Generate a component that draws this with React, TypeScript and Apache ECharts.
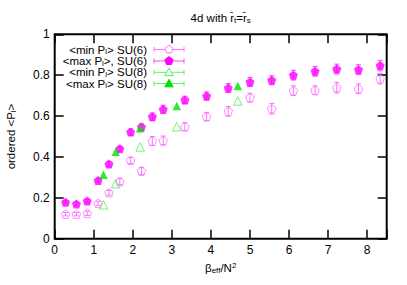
import React, { useEffect, useRef } from "react";
import * as echarts from "echarts";

// x positions (beta_eff / N^2)
const su6X = [0.278, 0.556, 0.833, 1.111, 1.389, 1.667, 1.944, 2.222, 2.5, 2.778, 3.333, 3.889, 4.444, 5.0, 5.556, 6.111, 6.667, 7.222, 7.778, 8.333];
const su6Max = [0.178, 0.17, 0.184, 0.285, 0.365, 0.44, 0.522, 0.547, 0.597, 0.633, 0.679, 0.698, 0.737, 0.767, 0.775, 0.8, 0.819, 0.83, 0.827, 0.847];
const su6MaxErr = [0.008, 0.008, 0.008, 0.01, 0.012, 0.012, 0.015, 0.015, 0.018, 0.02, 0.018, 0.02, 0.022, 0.022, 0.022, 0.024, 0.024, 0.024, 0.024, 0.026];
const su6Min = [0.12, 0.12, 0.124, 0.173, 0.225, 0.279, 0.383, 0.331, 0.478, 0.48, 0.548, 0.597, 0.623, 0.69, 0.636, 0.724, 0.726, 0.739, 0.734, 0.783];
const su6MinErr = [0.008, 0.008, 0.01, 0.01, 0.012, 0.015, 0.015, 0.018, 0.022, 0.022, 0.02, 0.02, 0.024, 0.022, 0.026, 0.024, 0.022, 0.026, 0.024, 0.026];
const su8X = [1.25, 1.5625, 2.1875, 3.125, 4.6875];
const su8Max = [0.313, 0.426, 0.54, 0.649, 0.747];
const su8Min = [0.166, 0.269, 0.449, 0.548, 0.674];

const legendRows = [
  { text: "<min P{s|l}> SU(6)", key: "min6" },
  { text: "<max P{s|l}>, SU(6)", key: "max6" },
  { text: "<min P{s|l}> SU(8)", key: "min8" },
  { text: "<max P{s|l}> SU(8)", key: "max8" },
];

const C6MIN = "#ff70ff";
const C6MAX = "#ff00ff";
const C8MIN = "#55ee55";
const C8MAX = "#00e000";
const FONT = "Liberation Sans, Arial, sans-serif";

const PENTA = "path://M0,-10 L9.51,-3.09 L5.88,8.09 L-5.88,8.09 L-9.51,-3.09 Z";

function pentagonPts(cx: number, cy: number, r: number) {
  const pts: number[][] = [];
  for (let i = 0; i < 5; i++) {
    const a = -Math.PI / 2 + (i * 2 * Math.PI) / 5;
    pts.push([cx + r * Math.cos(a), cy + r * Math.sin(a)]);
  }
  return pts;
}
function trianglePts(cx: number, cy: number, r: number) {
  return [
    [cx, cy - r],
    [cx + r, cy + r * 0.8],
    [cx - r, cy + r * 0.8],
  ];
}

function errSeries(xs: number[], ys: number[], es: number[], color: string) {
  return {
    type: "custom",
    xAxisIndex: 0,
    yAxisIndex: 0,
    data: xs.map((x, i) => [x, ys[i] - es[i], ys[i] + es[i]]),
    encode: { x: 0, y: [1, 2] },
    z: 2,
    renderItem: (params: any, api: any) => {
      const x = api.value(0);
      const a = api.coord([x, api.value(2)]);
      const b = api.coord([x, api.value(1)]);
      const w = 2.5;
      const st = { stroke: color, lineWidth: 1 };
      return {
        type: "group",
        children: [
          { type: "line", shape: { x1: a[0], y1: a[1], x2: b[0], y2: b[1] }, style: st },
          { type: "line", shape: { x1: a[0] - w, y1: a[1], x2: a[0] + w, y2: a[1] }, style: st },
          { type: "line", shape: { x1: b[0] - w, y1: b[1], x2: b[0] + w, y2: b[1] }, style: st },
        ],
      };
    },
  };
}

export default function App() {
  const ref = useRef<HTMLDivElement>(null);
  useEffect(() => {
    if (!ref.current) return;
    const chart = echarts.init(ref.current, null, { renderer: "svg" });
    const rich = {
      s: { fontSize: 8, padding: [5, 0, 0, 0], fontFamily: FONT },
      p: { fontSize: 8, padding: [0, 0, 5, 0], fontFamily: FONT },
    };

    const legendGraphics: any[] = [];
    const rowY = [49.5, 61, 72.3, 83.5];
    const colors: Record<string, string> = { min6: C6MIN, max6: C6MAX, min8: C8MIN, max8: C8MAX };
    const lineColors: Record<string, string> = { min6: C6MIN, max6: "#ff44ff", min8: "#66ee66", max8: "#66ee66" };
    legendRows.forEach((r, i) => {
      const y = rowY[i];
      legendGraphics.push({
        type: "text",
        x: 147,
        y,
        style: {
          text: r.text,
          align: "right",
          verticalAlign: "middle",
          fontSize: 11.5,
          fontFamily: FONT,
          fill: "#000",
          rich: { s: { fontSize: 8, padding: [4, 0, 0, 0], fontFamily: FONT } },
        },
      });
      const lc = lineColors[r.key];
      legendGraphics.push({ type: "line", shape: { x1: 154, y1: y, x2: 184, y2: y }, style: { stroke: lc, lineWidth: 1 } });
      legendGraphics.push({ type: "line", shape: { x1: 154, y1: y - 2.5, x2: 154, y2: y + 2.5 }, style: { stroke: lc, lineWidth: 1 } });
      legendGraphics.push({ type: "line", shape: { x1: 184, y1: y - 2.5, x2: 184, y2: y + 2.5 }, style: { stroke: lc, lineWidth: 1 } });
      const c = colors[r.key];
      if (r.key === "min6") {
        legendGraphics.push({ type: "polygon", shape: { points: pentagonPts(169, y, 4.2) }, style: { fill: "#fff", stroke: c, lineWidth: 1 } });
      } else if (r.key === "max6") {
        legendGraphics.push({ type: "polygon", shape: { points: pentagonPts(169, y, 4.4) }, style: { fill: c, stroke: c, lineWidth: 1 } });
      } else if (r.key === "min8") {
        legendGraphics.push({ type: "polygon", shape: { points: trianglePts(169, y, 4.2) }, style: { fill: "#fff", stroke: c, lineWidth: 1 } });
      } else {
        legendGraphics.push({ type: "polygon", shape: { points: trianglePts(169, y, 4.2) }, style: { fill: c, stroke: c, lineWidth: 1 } });
      }
    });

    const axisCommon = {
      min: 0,
      splitLine: { show: false },
      axisLine: { show: false, onZero: false },
    };
    const tick = { inside: true, length: 9, lineStyle: { color: "#000", width: 1.5 } };

    chart.setOption({
      animation: false,
      backgroundColor: "#fff",
      grid: {
        left: 54.7,
        top: 34.3,
        right: 20.3,
        bottom: 46.3,
        show: true,
        borderColor: "#000",
        borderWidth: 2,
        backgroundColor: "transparent",
      },
      xAxis: [
        {
          ...axisCommon,
          type: "value",
          max: 8.5,
          interval: 1,
          position: "bottom",
          axisTick: tick,
          axisLabel: {
            margin: 5,
            fontSize: 12,
            fontFamily: FONT,
            color: "#000",
            formatter: (v: number) => (Number.isInteger(v) ? String(v) : ""),
          },
        },
        {
          ...axisCommon,
          type: "value",
          max: 8.5,
          interval: 1,
          position: "top",
          axisTick: tick,
          axisLabel: { show: false },
        },
      ],
      yAxis: [
        {
          ...axisCommon,
          type: "value",
          max: 1,
          interval: 0.2,
          position: "left",
          axisTick: tick,
          axisLabel: { margin: 5, fontSize: 12, fontFamily: FONT, color: "#000" },
        },
        {
          ...axisCommon,
          type: "value",
          max: 1,
          interval: 0.2,
          position: "right",
          axisTick: tick,
          axisLabel: { show: false },
        },
      ],
      graphic: [
        {
          type: "text",
          x: 220.7,
          y: 18,
          style: {
            text: "4d with r\u0304{s|t}=r\u0304{s|s}",
            align: "center",
            verticalAlign: "middle",
            fontSize: 11.5,
            fontFamily: FONT,
            fill: "#000",
            rich,
          },
        },
        {
          type: "text",
          x: 220.7,
          y: 268,
          style: {
            text: "\u03b2{s|eff}/N{p|2}",
            align: "center",
            verticalAlign: "middle",
            fontSize: 11.5,
            fontFamily: FONT,
            fill: "#000",
            rich,
          },
        },
        {
          type: "text",
          x: 11,
          y: 136.5,
          rotation: Math.PI / 2,
          style: {
            text: "ordered <P{s|l}>",
            align: "center",
            verticalAlign: "middle",
            fontSize: 11.5,
            fontFamily: FONT,
            fill: "#000",
            rich,
          },
        },
        ...legendGraphics,
      ],
      series: [
        errSeries(su6X, su6Min, su6MinErr, C6MIN),
        errSeries(su6X, su6Max, su6MaxErr, "#ff44ff"),
        {
          type: "scatter",
          data: su6X.map((x, i) => [x, su6Min[i]]),
          symbol: PENTA,
          symbolSize: 8.5,
          itemStyle: { color: "rgba(255,255,255,0)", borderColor: C6MIN, borderWidth: 1 },
          z: 3,
        },
        {
          type: "scatter",
          data: su6X.map((x, i) => [x, su6Max[i]]),
          symbol: PENTA,
          symbolSize: 9,
          itemStyle: { color: C6MAX },
          z: 3,
        },
        {
          type: "scatter",
          data: su8X.map((x, i) => [x, su8Min[i]]),
          symbol: "triangle",
          symbolSize: 8.5,
          itemStyle: { color: "rgba(255,255,255,0)", borderColor: C8MIN, borderWidth: 1 },
          z: 3,
        },
        {
          type: "scatter",
          data: su8X.map((x, i) => [x, su8Max[i]]),
          symbol: "triangle",
          symbolSize: 8.5,
          itemStyle: { color: C8MAX },
          z: 3,
        },
      ],
    });
    return () => chart.dispose();
  }, []);
  return (
    <div
      ref={ref}
      style={{ position: "fixed", left: 0, top: 0, width: 407, height: 285, background: "#fff" }}
    />
  );
}
